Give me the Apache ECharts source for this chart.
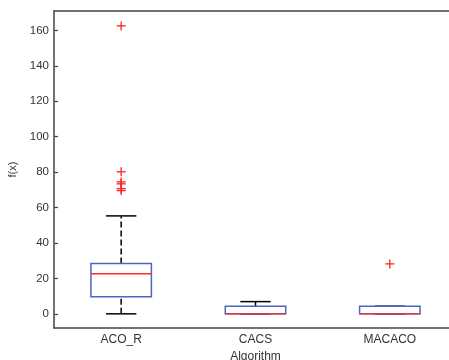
<!DOCTYPE html>
<html>
<head>
<meta charset="utf-8">
<script src="https://cdn.jsdelivr.net/npm/echarts@6/dist/echarts.min.js"></script>
<style>
  html, body { margin: 0; padding: 0; background: #fff; }
  #main { width: 449px; height: 360px; }
</style>
</head>
<body>
<div id="main"></div>
<script>
// 数据
let categories = ['ACO_R', 'CACS', 'MACACO'];
let lowWhisker = [0, 0, 0];
let q1 = [9.6, 0, 0];
let median = [22.6, 0, 0];
let q3 = [28.4, 4.3, 4.3];
let highWhisker = [55.3, 6.9, 4.3];
// 离群点 [类别序号, 值]
let outlierCat = [0, 0, 0, 0, 0, 0, 2];
let outlierVal = [162.6, 80.2, 74.5, 73.4, 70.7, 69.6, 28.2];

let boxData = categories.map(function (c, i) {
  return [i, lowWhisker[i], q1[i], median[i], q3[i], highWhisker[i]];
});
let outlierData = outlierVal.map(function (v, i) {
  return [outlierCat[i], v];
});

let font = 'Arial, "Liberation Sans", Helvetica, sans-serif';
let axisColor = '#444';

function renderBox(params, api) {
  let idx = api.value(0);
  let cx = api.coord([idx, 0])[0];
  let band = api.size([1, 0])[0];
  let hw = band * 0.225;
  let cw = band * 0.113;
  let yLow = api.coord([idx, api.value(1)])[1];
  let yQ1 = api.coord([idx, api.value(2)])[1];
  let yMed = api.coord([idx, api.value(3)])[1];
  let yQ3 = api.coord([idx, api.value(4)])[1];
  let yHigh = api.coord([idx, api.value(5)])[1];
  let dash = { stroke: '#000', lineWidth: 1.5, lineDash: [6, 3] };
  let solid = { stroke: '#000', lineWidth: 1.5 };
  return {
    type: 'group',
    children: [
      { type: 'line', shape: { x1: cx, y1: yQ3, x2: cx, y2: yHigh }, style: dash },
      { type: 'line', shape: { x1: cx, y1: yLow, x2: cx, y2: yQ1 }, style: dash },
      { type: 'line', shape: { x1: cx - cw, y1: yHigh, x2: cx + cw, y2: yHigh }, style: solid },
      { type: 'line', shape: { x1: cx - cw, y1: yLow, x2: cx + cw, y2: yLow }, style: solid },
      { type: 'rect', shape: { x: cx - hw, y: yQ3, width: hw * 2, height: yQ1 - yQ3 },
        style: { fill: 'none', stroke: '#4d66bd', lineWidth: 1.5 } },
      { type: 'line', shape: { x1: cx - hw, y1: yMed, x2: cx + hw, y2: yMed },
        style: { stroke: '#ff2a2a', lineWidth: 1.4 } }
    ]
  };
}

function renderPlus(params, api) {
  let p = api.coord([api.value(0), api.value(1)]);
  let s = 4.5;
  let st = { stroke: '#ff2020', lineWidth: 1.3 };
  return {
    type: 'group',
    children: [
      { type: 'line', shape: { x1: p[0] - s, y1: p[1], x2: p[0] + s, y2: p[1] }, style: st },
      { type: 'line', shape: { x1: p[0], y1: p[1] - s, x2: p[0], y2: p[1] + s }, style: st }
    ]
  };
}

let chart = echarts.init(document.getElementById('main'));
let option = {
  backgroundColor: '#fff',
  animation: false,
  grid: { left: 54, right: -8, top: 11, bottom: 32, show: false,
    containLabel: false, outerBoundsMode: 'none' },
  xAxis: [{
    type: 'category',
    data: categories,
    position: 'bottom',
    name: 'Algorithm',
    nameLocation: 'middle',
    nameGap: 21,
    nameTextStyle: { color: '#333', fontSize: 12, fontFamily: font },
    axisLine: { onZero: false, lineStyle: { color: axisColor, width: 1.5 } },
    axisTick: { inside: true, length: 3, alignWithLabel: true, lineStyle: { color: axisColor, width: 1.5 } },
    axisLabel: { color: '#333', fontSize: 12, fontFamily: font, margin: 6 },
    splitLine: { show: false }
  }, {
    type: 'category',
    data: categories,
    position: 'top',
    axisLine: { onZero: false, lineStyle: { color: axisColor, width: 1.5 } },
    axisTick: { inside: true, length: 4, alignWithLabel: true, lineStyle: { color: axisColor, width: 1.5 } },
    axisLabel: { show: false },
    splitLine: { show: false }
  }],
  yAxis: {
    type: 'value',
    min: -8,
    max: 171,
    splitNumber: 9,
    name: 'f(x)',
    nameLocation: 'middle',
    nameGap: 35,
    nameRotate: 90,
    nameTextStyle: { color: '#333', fontSize: 11, fontFamily: font },
    axisLine: { show: true, onZero: false, lineStyle: { color: axisColor, width: 1.5 } },
    axisTick: { show: true, inside: true, length: 4, lineStyle: { color: axisColor, width: 1.2 } },
    axisLabel: { color: '#333', fontSize: 11.5, fontFamily: font, margin: 5,
      showMinLabel: false, showMaxLabel: false },
    splitLine: { show: false }
  },
  series: [{
    type: 'custom',
    name: 'box',
    renderItem: renderBox,
    encode: { x: 0, y: [1, 2, 3, 4, 5] },
    data: boxData,
    z: 2
  }, {
    type: 'custom',
    name: 'outlier',
    renderItem: renderPlus,
    encode: { x: 0, y: 1 },
    data: outlierData,
    z: 3
  }]
};
chart.setOption(option);
</script>
</body>
</html>
